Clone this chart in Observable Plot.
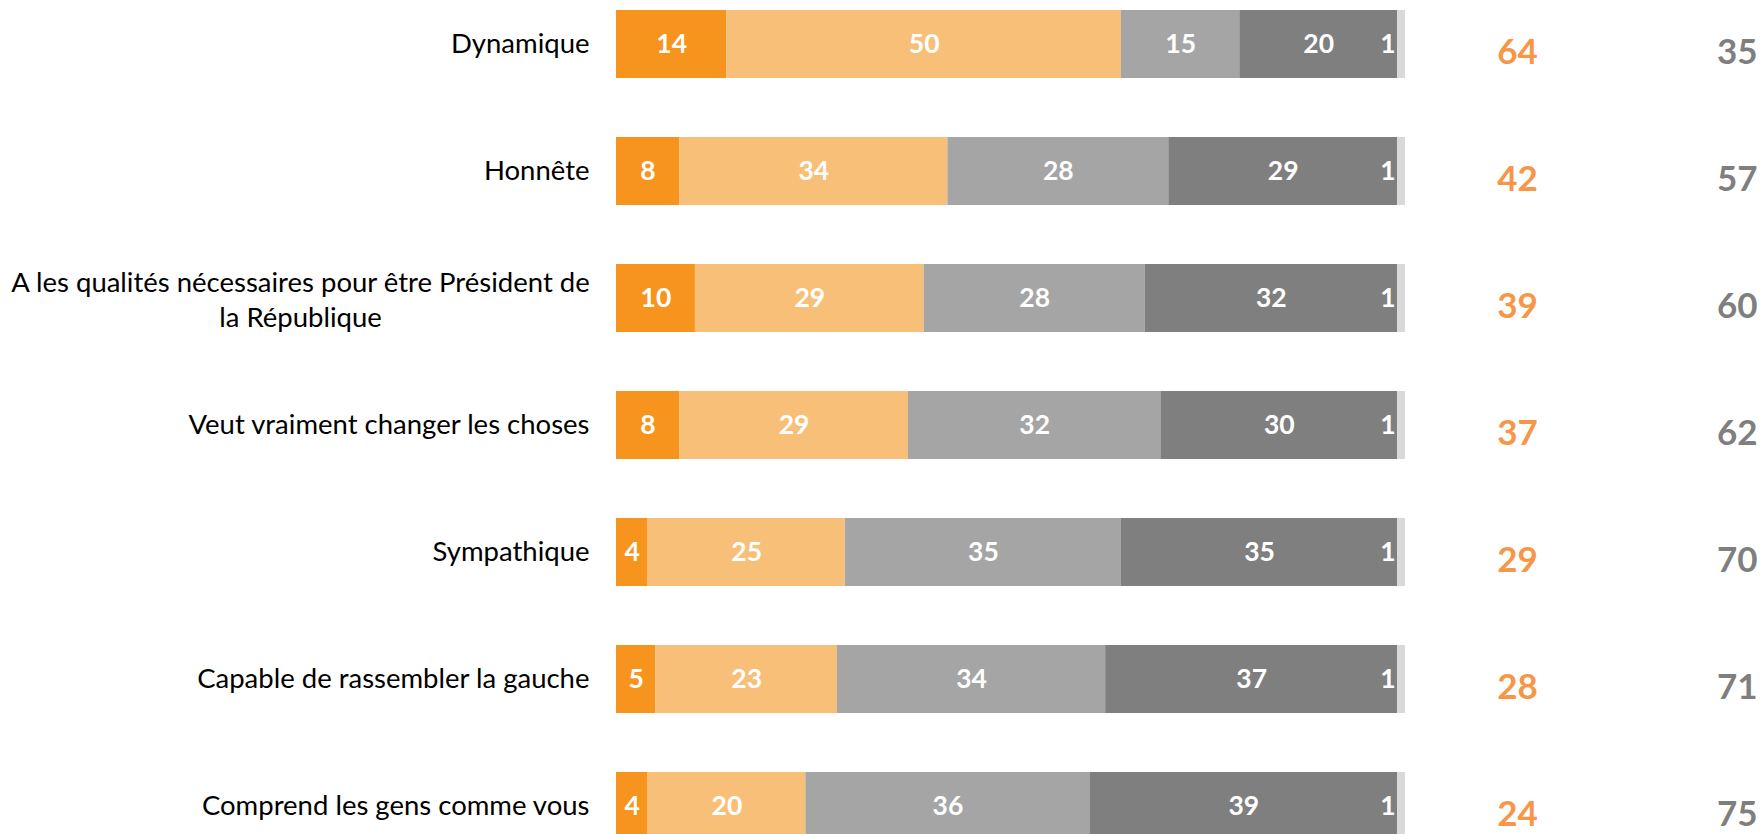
<!DOCTYPE html>
<html>
<head>
<meta charset="utf-8">
<script src="https://cdn.jsdelivr.net/npm/d3@7"></script>
<script src="https://cdn.jsdelivr.net/npm/@observablehq/plot@0.6"></script>
<style>
  html, body { margin: 0; padding: 0; background: #fff; overflow: hidden; }
  #chart svg { display: block; }
</style>
</head>
<body>
<div id="chart"></div>
<script>
const categories = [
  "Dynamique",
  "Honnête",
  "A les qualités nécessaires pour être Président de\nla République",
  "Veut vraiment changer les choses",
  "Sympathique",
  "Capable de rassembler la gauche",
  "Comprend les gens comme vous"
];
const seriesNames = ["Tout à fait", "Plutôt", "Plutôt pas", "Pas du tout", "Nsp"];
const toutAFait  = [14, 8, 10, 8, 4, 5, 4];
const plutot     = [50, 34, 29, 29, 25, 23, 20];
const plutotPas  = [15, 28, 28, 32, 35, 34, 36];
const pasDuTout  = [20, 29, 32, 30, 35, 37, 39];
const nsp        = [1, 1, 1, 1, 1, 1, 1];
const totalOui   = [64, 42, 39, 37, 29, 28, 24];
const totalNon   = [35, 57, 60, 62, 70, 71, 75];
const seriesColors = ["#F7941D", "#F8BF78", "#A5A5A5", "#7F7F7F", "#D9D9D9"];

const seriesValues = [toutAFait, plutot, plutotPas, pasDuTout, nsp];
const data = [];
categories.forEach((c, i) => {
  seriesNames.forEach((s, j) => data.push({cat: c, series: s, value: seriesValues[j][i]}));
});
const totals = categories.map((c, i) => ({cat: c, oui: totalOui[i], non: totalNon[i]}));

const font = "Lato, 'Open Sans', sans-serif";
const stackOpts = {x: "value", y: "cat", z: "series", order: seriesNames};

const chart = Plot.plot({
  width: 1764,
  height: 840,
  marginTop: 10,
  marginBottom: 0,
  marginLeft: 616,
  marginRight: 359,
  style: {fontFamily: font, background: "#fff"},
  x: {domain: [0, 100], axis: null},
  y: {domain: categories, paddingInner: 0.4646, paddingOuter: 0, axis: null},
  color: {domain: seriesNames, range: seriesColors},
  marks: [
    Plot.barX(data, Plot.stackX({...stackOpts, fill: "series"})),
    Plot.text(data, Plot.stackX({
      ...stackOpts,
      text: d => d.series === "Nsp" ? null : String(d.value),
      fill: "white", fontWeight: "bold", fontSize: 26.5, fontFamily: font
    })),
    Plot.text(data, Plot.stackX1({
      ...stackOpts,
      text: d => d.series === "Nsp" ? String(d.value) : null,
      fill: "white", fontWeight: "bold", fontSize: 26.5, fontFamily: font,
      textAnchor: "end", dx: -2
    })),
    // category labels (single line: right aligned)
    Plot.text(categories.filter(c => !c.includes("\n")), {
      y: d => d, text: d => d, frameAnchor: "left", textAnchor: "end", dx: -27,
      fontSize: 27.5, fill: "#000", fontFamily: font
    }),
    // category labels (wrapped: centred block)
    Plot.text(categories.filter(c => c.includes("\n")), {
      y: d => d, text: d => d, frameAnchor: "left", textAnchor: "middle", dx: -316,
      fontSize: 27.5, lineHeight: 1.28, fill: "#000", fontFamily: font
    }),
    Plot.text(totals, {
      y: "cat", text: "oui", frameAnchor: "right", textAnchor: "middle", dx: 112, dy: 8,
      fill: "#F79646", fontWeight: "bold", fontSize: 35, fontFamily: font
    }),
    Plot.text(totals, {
      y: "cat", text: "non", frameAnchor: "right", textAnchor: "end", dx: 352, dy: 8,
      fill: "#7F7F7F", fontWeight: "bold", fontSize: 35, fontFamily: font
    })
  ]
});
document.getElementById("chart").appendChild(chart);
</script>
</body>
</html>
